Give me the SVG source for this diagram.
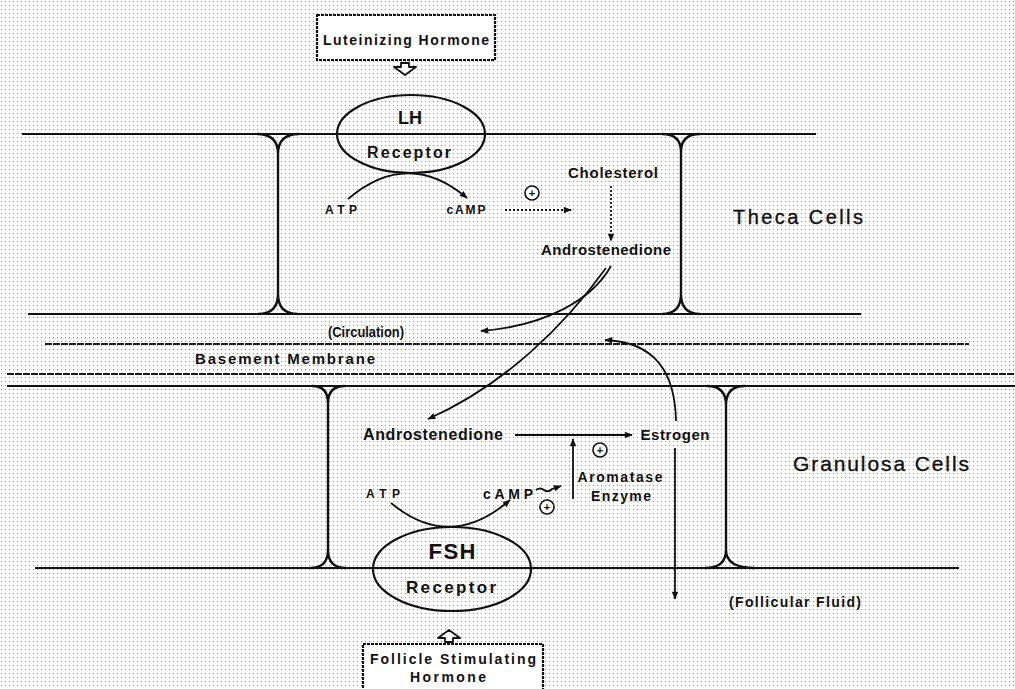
<svg xmlns="http://www.w3.org/2000/svg" width="1015" height="689" viewBox="0 0 1015 689">
<style>
.t{font-family:"Liberation Sans",Arial,Helvetica,sans-serif;fill:#111;font-weight:bold;text-anchor:middle}
.n{font-weight:normal;stroke:#111;stroke-width:0.35}
.ln{fill:none;stroke:#111;stroke-width:2.2}
.wv{fill:none;stroke:#1a1a1a;stroke-width:1.8;stroke-dasharray:7 1}
.wall{fill:none;stroke:#111;stroke-width:2.4}
.box{fill:#fff;stroke:#111;stroke-width:2.2;stroke-dasharray:3 1}
.ell{fill:none;stroke:#111;stroke-width:2.2}
.arr{fill:none;stroke:#111;stroke-width:1.8}
.dot{fill:none;stroke:#111;stroke-width:1.8;stroke-dasharray:2 2}
.hol{fill:#fff;stroke:#111;stroke-width:1.8;stroke-linejoin:round}
.pc{fill:#fff;stroke:#111;stroke-width:1.6}
</style>
<defs>
<pattern id="dots" width="4" height="4" patternUnits="userSpaceOnUse">
<rect x="1" y="1" width="1" height="1" fill="#8a8a8a"/>
</pattern>
<marker id="ah" viewBox="0 0 10 10" refX="9" refY="5" markerWidth="10" markerHeight="8" markerUnits="userSpaceOnUse" orient="auto">
<path d="M0,1 L10,5 L0,9 z" fill="#111"/>
</marker>
</defs>
<rect x="0" y="0" width="1015" height="689" fill="#fff"/>
<rect x="0" y="0" width="1015" height="689" fill="url(#dots)"/>

<g id="membranes">
<line class="ln" x1="22" y1="134" x2="816" y2="134"/>
<line class="ln" x1="28" y1="314" x2="861" y2="314"/>
<line class="wv" x1="45" y1="344" x2="969" y2="344"/>
<line class="wv" x1="7" y1="374" x2="1015" y2="374"/>
<line class="ln" x1="7" y1="386" x2="1015" y2="386"/>
<line class="ln" x1="35" y1="568" x2="959" y2="568"/>
</g>

<g id="cell-walls">
<path class="wall" d="M257,134 Q278,134 278,154 M299,134 Q278,134 278,154 L278,294 Q278,314 258,314 M278,294 Q278,314 298,314"/>
<path class="wall" d="M662,134 Q681,134 681,152 M700,134 Q681,134 681,152 L681,294 Q681,314 662,314 M681,294 Q681,314 700,314"/>
<path class="wall" d="M312,386 Q328,386 328,403 M345,386 Q328,386 328,403 L328,550 Q328,568 310,568 M328,550 Q328,568 346,568"/>
<path class="wall" d="M707,386 Q726,386 726,405 M745,386 Q726,386 726,405 L726,550 Q726,568 705,568 M726,550 Q726,568 755,568"/>
</g>

<g id="lh-hormone">
<rect class="box" x="317" y="15" width="178" height="45"/>
<text class="t" x="406" y="45" font-size="14" textLength="166">Luteinizing Hormone</text>
<path class="hol" d="M401,63 L409,63 L409,67 L416,67 L405,75 L394,67 L401,67 Z"/>
</g>

<g id="lh-receptor">
<ellipse class="ell" cx="411" cy="134" rx="74" ry="39"/>
<text class="t" x="410" y="124" font-size="18">LH</text>
<text class="t" x="409" y="158" font-size="16" textLength="84">Receptor</text>
</g>

<g id="theca-labels">
<text class="t" x="341" y="214" font-size="12" textLength="32">ATP</text>
<text class="t" x="466" y="214" font-size="12" textLength="39">cAMP</text>
<circle class="pc" cx="532" cy="193" r="7"/>
<text class="t" x="532" y="197" font-size="11">+</text>
<text class="t" x="613" y="178" font-size="15" textLength="90">Cholesterol</text>
<text class="t" x="606" y="255" font-size="15" textLength="130">Androstenedione</text>
<text class="t n" x="798" y="224" font-size="20" textLength="130">Theca Cells</text>
</g>

<g id="circulation">
<text class="t" x="366" y="337" font-size="14" textLength="76" lengthAdjust="spacingAndGlyphs">(Circulation)</text>
</g>
<g id="basement">
<text class="t" x="285" y="364" font-size="15" textLength="180">Basement Membrane</text>
</g>

<g id="granulosa-labels">
<text class="t" x="433" y="440" font-size="16" textLength="140">Androstenedione</text>
<text class="t" x="675" y="440" font-size="15" textLength="69">Estrogen</text>
<circle class="pc" cx="600" cy="450" r="7"/>
<text class="t" x="600" y="454" font-size="11">+</text>
<text class="t" x="620" y="482" font-size="14" textLength="85">Aromatase</text>
<text class="t" x="621" y="501" font-size="14" textLength="60">Enzyme</text>
<text class="t" x="383" y="498" font-size="12" textLength="34">ATP</text>
<text class="t" x="508" y="499" font-size="14" textLength="50">cAMP</text>
<circle class="pc" cx="547" cy="507" r="7"/>
<text class="t" x="547" y="511" font-size="11">+</text>
<text class="t n" x="881" y="471" font-size="21" textLength="176">Granulosa Cells</text>
<text class="t" x="795" y="607" font-size="14" textLength="132">(Follicular Fluid)</text>
</g>

<g id="fsh-receptor">
<ellipse class="ell" cx="452" cy="569" rx="79" ry="42"/>
<text class="t" x="452" y="559" font-size="22" textLength="47">FSH</text>
<text class="t" x="451" y="593" font-size="17" textLength="90">Receptor</text>
</g>

<g id="fsh-hormone">
<path class="hol" d="M445,642 L453,642 L453,638 L460,638 L449,630 L438,638 L445,638 Z"/>
<rect class="box" x="363" y="644" width="180" height="50"/>
<text class="t" x="453" y="664" font-size="14" textLength="166">Follicle Stimulating</text>
<text class="t" x="448" y="682" font-size="14" textLength="76">Hormone</text>
</g>

<g id="connectors">
<path class="arr" d="M348,199 Q408,148 467,198" marker-end="url(#ah)"/>
<path class="dot" d="M505,210 L571,210" marker-end="url(#ah)"/>
<path class="dot" d="M611,186 L611,241" marker-end="url(#ah)"/>
<path class="arr" d="M611,266 C592,300 545,326 481,331" marker-end="url(#ah)"/>
<path class="arr" d="M606,268 C565,325 505,385 428,419" marker-end="url(#ah)"/>
<path class="arr" d="M676,421 C675,372 655,342 605,340" marker-end="url(#ah)"/>
<path class="arr" d="M515,435 L632,435" marker-end="url(#ah)"/>
<path class="arr" d="M573,499 L573,439" marker-end="url(#ah)"/>
<path class="arr" d="M391,503 Q450,552 510,500" marker-end="url(#ah)"/>
<path class="arr" d="M536,490 q4,-3 8,0 q4,3 8,-1 L561,486" marker-end="url(#ah)"/>
<path class="arr" d="M675,448 L675,599" marker-end="url(#ah)"/>
</g>
</svg>
